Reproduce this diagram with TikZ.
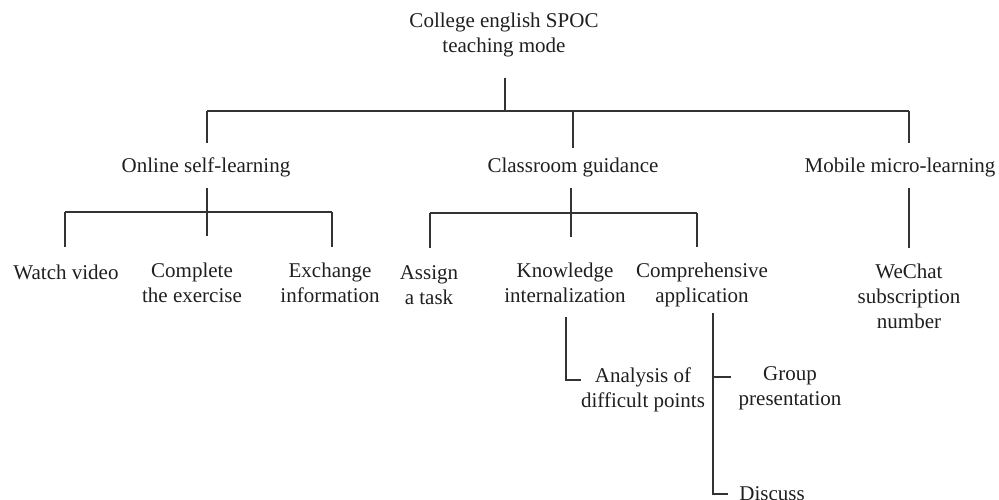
\documentclass[tikz,border=0pt]{standalone}
\usepackage{fontspec}
\setmainfont{Liberation Serif}
\begin{document}
\begin{tikzpicture}[x=1pt,y=-1pt,
  lbl/.style={inner sep=0pt,outer sep=0pt,align=center,anchor=base,text=black!88,
    font=\fontsize{21}{25}\selectfont},
  conn/.style={line width=1.2pt,draw=black!80}]
\useasboundingbox (0,0) rectangle (999,500);
% nodes (base anchor = baseline of the last line)
\node[lbl] (root) at (504,53) {College english SPOC\\teaching mode};
\node[lbl] (online) at (206,172.5) {Online self-learning};
\node[lbl] (class) at (573,172.5) {Classroom guidance};
\node[lbl] (mobile) at (900,172.5) {Mobile micro-learning};
\node[lbl] (watch) at (66,279) {Watch video};
\node[lbl] (complete) at (192,302) {Complete\\the exercise};
\node[lbl] (exchange) at (330,302) {Exchange\\information};
\node[lbl] (assign) at (429,304) {Assign\\a task};
\node[lbl] (know) at (565,302) {Knowledge\\internalization};
\node[lbl] (comp) at (702,302) {Comprehensive\\application};
\node[lbl] (wechat) at (909,328) {WeChat\\subscription\\number};
\node[lbl] (analysis) at (643,407) {Analysis of\\difficult points};
\node[lbl] (group) at (790,405) {Group\\presentation};
\node[lbl] (discuss) at (772,500) {Discuss};
% junctions
\coordinate (J0) at (505,111);
\coordinate (J0L) at (207,111);
\coordinate (J0M) at (573,111);
\coordinate (J0R) at (909,111);
\coordinate (JonL) at (65,212);
\coordinate (JonM) at (207,212);
\coordinate (JonR) at (332,212);
\coordinate (JclL) at (430,213);
\coordinate (JclM) at (571,213);
\coordinate (JclR) at (697,213);
\coordinate (Kc) at (566,380);
\coordinate (Ct) at (713,377);
\coordinate (Cb) at (713,494);
% connectors
\draw[conn,shorten <=20pt] (root.south -| J0) -- (J0);
\draw[conn] (J0L) -- (J0R);
\draw[conn,shorten >=15pt] (J0L) -- (J0L |- online.north);
\draw[conn,shorten >=10pt] (J0M) -- (J0M |- class.north);
\draw[conn,shorten >=15pt] (J0R) -- (J0R |- mobile.north);
% online
\draw[conn,shorten <=11pt,shorten >=26pt] (online.south -| JonM) -- (JonM |- complete.north);
\draw[conn] (JonL) -- (JonR);
\draw[conn,shorten >=17pt] (JonL) -- (JonL |- watch.north);
\draw[conn,shorten >=15pt] (JonR) -- (JonR |- exchange.north);
% classroom
\draw[conn,shorten <=11pt,shorten >=25pt] (class.south -| JclM) -- (JclM |- know.north);
\draw[conn] (JclL) -- (JclR);
\draw[conn,shorten >=17pt] (JclL) -- (JclL |- assign.north);
\draw[conn,shorten >=15pt] (JclR) -- (JclR |- comp.north);
% mobile
\draw[conn,shorten <=11pt,shorten >=15pt] (mobile.south -| J0R) -- (J0R |- wechat.north);
% knowledge
\draw[conn,shorten <=15pt] (know.south -| Kc) -- (Kc) -- (analysis.west |- Kc);
% comprehensive
\draw[conn,shorten <=7pt,shorten >=11pt] (comp.south -| Cb) -- (Cb) -- (discuss.west |- Cb);
\draw[conn,shorten >=8pt] (Ct) -- (group.west |- Ct);
\end{tikzpicture}
\end{document}
